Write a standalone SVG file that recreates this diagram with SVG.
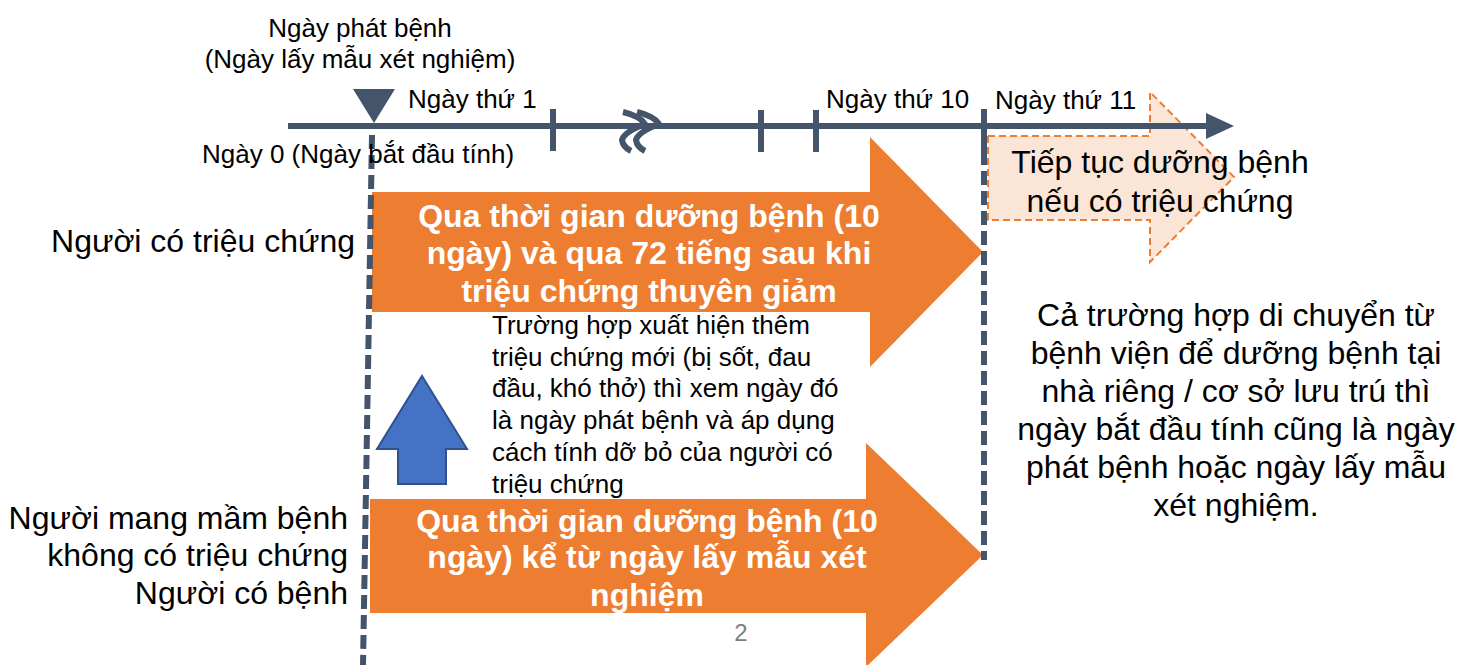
<svg xmlns="http://www.w3.org/2000/svg" width="1469" height="665" viewBox="0 0 1469 665">
<style>
text{font-family:"Liberation Sans",Arial,sans-serif;fill:#000}
.s20{font-size:26px}
.s27{font-size:32px}
.s22{font-size:26px}
.w{fill:#fff;font-weight:bold;font-size:32px}
.tl{stroke:#44546A;stroke-width:6;fill:none}
.dash{stroke:#44546A;stroke-width:6;fill:none;stroke-dasharray:14 6}
.org{fill:#ED7D31}
</style>
<rect width="1469" height="665" fill="#fff"/>
<g id="arrow-top">
<polygon class="org" points="372,192 870,192 870,137 983,252 870,367 870,312 372,312"/>
<text class="w" text-anchor="middle" x="649" y="227">Qua thời gian dưỡng bệnh (10</text>
<text class="w" text-anchor="middle" x="649" y="264">ngày) và qua 72 tiếng sau khi</text>
<text class="w" text-anchor="middle" x="649" y="302">triệu chứng thuyên giảm</text>
</g>
<g id="arrow-bottom">
<polygon class="org" points="370,499 866,499 866,443 983,555 866,667 866,613 370,613"/>
<text class="w" text-anchor="middle" x="647" y="532">Qua thời gian dưỡng bệnh (10</text>
<text class="w" text-anchor="middle" x="647" y="568">ngày) kể từ ngày lấy mẫu xét</text>
<text class="w" text-anchor="middle" x="647" y="606">nghiệm</text>
</g>
<g id="arrow-continue">
<polygon points="988,136 1150,136 1150,92 1234,177 1150,262 1150,220 988,220" fill="#FBE5D6" stroke="#ED7D31" stroke-width="2" stroke-dasharray="7 4"/>
<text class="s27" text-anchor="middle" x="1160" y="173">Tiếp tục dưỡng bệnh</text>
<text class="s27" text-anchor="middle" x="1160" y="212">nếu có triệu chứng</text>
</g>
<g id="connectors">
<line class="tl" x1="288" y1="126" x2="1210" y2="126" stroke-width="8"/>
<polygon points="1206,113 1234,126 1206,139" fill="#44546A"/>
<polygon points="353,89 395,89 374,123" fill="#44546A"/>
<line class="tl" x1="553" y1="109" x2="553" y2="151"/>
<line class="tl" x1="761" y1="110" x2="761" y2="152"/>
<line class="tl" x1="816" y1="110" x2="816" y2="152"/>
<line class="tl" x1="984" y1="109" x2="984" y2="151"/>
<path class="tl" d="M623,112 Q640,116 645,124 Q624,132 622,140 Q623,147 631,151"/>
<path class="tl" d="M637,112 Q654,116 659,124 Q638,132 636,140 Q637,147 645,151"/>
<line class="dash" x1="372" y1="135" x2="363" y2="665"/>
<line class="dash" x1="984" y1="151" x2="984" y2="560"/>
</g>
<g id="up-arrow">
<polygon points="422,376 467,449 446,449 446,484 398,484 398,449 377,449" fill="#4472C4" stroke="#2F528F" stroke-width="2"/>
</g>
<g id="labels">
<text class="s20" text-anchor="middle" x="360" y="37">Ngày phát bệnh</text>
<text class="s20" text-anchor="middle" x="360" y="68">(Ngày lấy mẫu xét nghiệm)</text>
<text class="s20" x="408" y="108">Ngày thứ 1</text>
<text class="s20" x="202" y="163">Ngày 0 (Ngày bắt đầu tính)</text>
<text class="s20" x="826" y="108">Ngày thứ 10</text>
<text class="s20" x="995" y="109">Ngày thứ 11</text>
<text class="s27" text-anchor="end" x="355" y="252">Người có triệu chứng</text>
<text class="s27" text-anchor="end" x="348" y="529">Người mang mầm bệnh</text>
<text class="s27" text-anchor="end" x="348" y="566">không có triệu chứng</text>
<text class="s27" text-anchor="end" x="348" y="604">Người có bệnh</text>
</g>
<g id="note">
<text class="s22" x="492" y="334">Trường hợp xuất hiện thêm</text>
<text class="s22" x="492" y="366">triệu chứng mới (bị sốt, đau</text>
<text class="s22" x="492" y="397">đầu, khó thở) thì xem ngày đó</text>
<text class="s22" x="492" y="429">là ngày phát bệnh và áp dụng</text>
<text class="s22" x="492" y="461">cách tính dỡ bỏ của người có</text>
<text class="s22" x="492" y="493">triệu chứng</text>
</g>
<g id="side-note">
<text class="s27" text-anchor="middle" x="1236" y="326">Cả trường hợp di chuyển từ</text>
<text class="s27" text-anchor="middle" x="1236" y="364">bệnh viện để dưỡng bệnh tại</text>
<text class="s27" text-anchor="middle" x="1236" y="402">nhà riêng / cơ sở lưu trú thì</text>
<text class="s27" text-anchor="middle" x="1236" y="440">ngày bắt đầu tính cũng là ngày</text>
<text class="s27" text-anchor="middle" x="1236" y="478">phát bệnh hoặc ngày lấy mẫu</text>
<text class="s27" text-anchor="middle" x="1236" y="516">xét nghiệm.</text>
</g>
<text x="741" y="641" text-anchor="middle" style="font-size:24px;fill:#7F7F7F">2</text>
</svg>
